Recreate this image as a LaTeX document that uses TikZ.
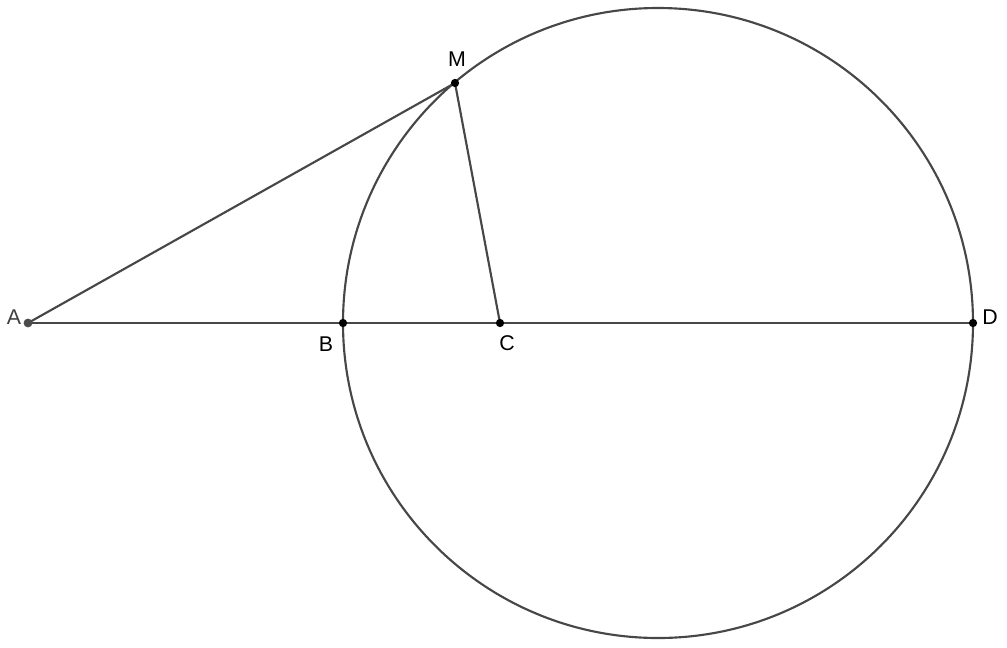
\documentclass[tikz,border=0pt]{standalone}
\usepackage{fontspec}
\setmainfont{Liberation Sans}
\usetikzlibrary{positioning}

\begin{document}
\begin{tikzpicture}[x=0.75pt, y=-0.75pt, seg/.style={line width=1.6pt, draw=black!72}, lbl/.style={inner sep=0pt, font=\fontsize{16}{18}\selectfont}]
\useasboundingbox (0,0) rectangle (1007,647);
\coordinate (A) at (28, 323);
\coordinate (B) at (343, 323);
\coordinate (C) at (500, 323);
\coordinate (D) at (973, 323);
\coordinate (M) at (455, 83);
\coordinate (O) at (658, 323);

\draw[seg] (O) circle (236.25pt);
\draw[seg] (A) -- (D);
\draw[seg] (A) -- (M);
\draw[seg] (M) -- (C);

\fill[black!70] (A) circle (3.3pt);
\foreach \p in {B, C, D, M}
  \fill (\p) circle (3.1pt);

\node[lbl, text=black!75] (labA) at (14, 317) {A};
\node[lbl] (labB) at (326, 344) {B};
\node[lbl] (labC) at (507, 343) {C};
\node[lbl] (labD) at (990, 317) {D};
\node[lbl] (labM) at (457, 59) {M};
\end{tikzpicture}
\end{document}
